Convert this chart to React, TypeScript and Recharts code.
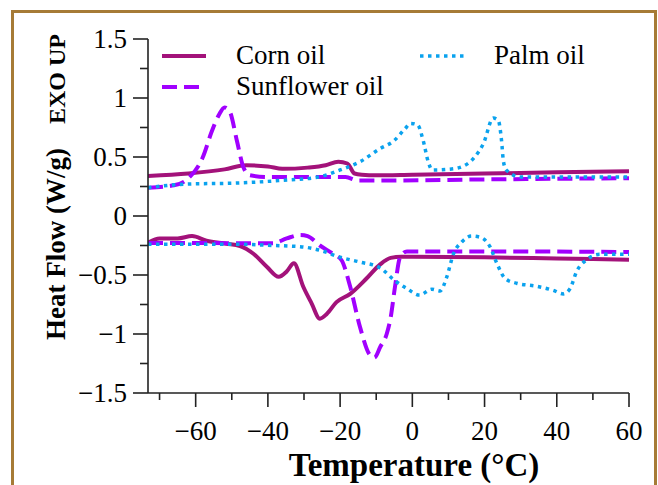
import { Label, Legend, Line, LineChart, XAxis, YAxis } from "recharts";

// DSC thermograms: upper curves = cooling (exo up), lower curves = heating
const cornCoolT = [-73.2, -62, -52, -46, -40, -36, -29, -24, -20.5, -18, -16, -14, -10, 0, 20, 40, 60];
const cornCoolW = [0.34, 0.36, 0.395, 0.43, 0.42, 0.4, 0.41, 0.43, 0.46, 0.445, 0.36, 0.35, 0.345, 0.35, 0.36, 0.37, 0.38];

const sunCoolT = [-73.2, -66, -62, -58, -55.5, -53.5, -52, -50.5, -48.6, -46.8, -45, -40, -30, -18.5, -15, -10, 20, 60];
const sunCoolW = [0.24, 0.26, 0.32, 0.5, 0.72, 0.86, 0.92, 0.88, 0.64, 0.415, 0.345, 0.33, 0.33, 0.33, 0.3, 0.3, 0.31, 0.32];

const palmCoolT = [-73.2, -63, -48, -37, -26, -20, -14.5, -9, -5, -2, -0.5, 1.5, 3, 4.4, 5.5, 9.5, 13, 17, 19.7, 22.4, 23.8, 24.7, 25.2, 26, 30, 60];
const palmCoolW = [0.24, 0.27, 0.28, 0.3, 0.33, 0.39, 0.46, 0.57, 0.64, 0.74, 0.785, 0.77, 0.64, 0.46, 0.39, 0.395, 0.41, 0.49, 0.615, 0.83, 0.81, 0.64, 0.47, 0.39, 0.33, 0.33];

const cornHeatT = [-73.2, -70, -65, -61, -57, -51.5, -47.7, -44, -40.3, -37, -34.8, -32.8, -30.2, -27.9, -25.6, -23.7, -21, -17.2, -12.7, -8.9, -6, -3, 0, 20, 40, 60];
const cornHeatW = [-0.228, -0.19, -0.19, -0.17, -0.21, -0.235, -0.255, -0.32, -0.43, -0.515, -0.47, -0.4, -0.6, -0.74, -0.87, -0.83, -0.73, -0.66, -0.53, -0.41, -0.355, -0.345, -0.345, -0.35, -0.36, -0.37];

const sunHeatT = [-73.2, -66, -50, -38.5, -34.8, -31, -29, -25.6, -22, -19.6, -17.2, -14.5, -11.7, -10.5, -8.9, -7.1, -6, -4.8, -3.4, -1.5, 20, 60];
const sunHeatW = [-0.228, -0.228, -0.23, -0.23, -0.19, -0.16, -0.17, -0.25, -0.32, -0.375, -0.6, -0.94, -1.18, -1.2, -1.11, -1.0, -0.86, -0.6, -0.35, -0.3, -0.3, -0.305];

const palmHeatT = [-73.2, -48, -38.5, -31, -25.6, -20, -14.5, -8.9, -5, -1.5, 2, 5.4, 7.7, 9.5, 11.4, 13.7, 16.4, 18.8, 21.5, 23.4, 25.7, 28.9, 34.4, 39, 41.8, 43.7, 45.5, 48.3, 52, 60];
const palmHeatW = [-0.24, -0.24, -0.25, -0.26, -0.29, -0.35, -0.39, -0.44, -0.545, -0.615, -0.67, -0.62, -0.635, -0.52, -0.32, -0.22, -0.17, -0.18, -0.26, -0.4, -0.53, -0.57, -0.595, -0.63, -0.66, -0.615, -0.47, -0.37, -0.325, -0.325];

const tempTicks = [-70, -60, -50, -40, -30, -20, -10, 0, 10, 20, 30, 40, 50, 60];
const flowTicks = [-1.5, -1.25, -1, -0.75, -0.5, -0.25, 0, 0.25, 0.5, 0.75, 1, 1.25, 1.5];

const oilNames = ["Corn oil", "Sunflower oil", "Palm oil"];

const TEMP_DOMAIN: [number, number] = [-73.2, 60];
const FLOW_DOMAIN: [number, number] = [-1.5, 1.5];

const CORN = "#a3127a";
const SUN = "#a100ff";
const PALM = "#0aa2ee";
const AXIS = "#222";
const FONT = "'Liberation Serif', 'Times New Roman', serif";

const styles: Record<string, { dash?: string; width: number }> = {
  "Corn oil": { width: 4 },
  "Sunflower oil": { dash: "15 7", width: 4 },
  "Palm oil": { dash: "3.5 4.5", width: 3.5 },
};

const rows = (t: number[], w: number[]) => t.map((temp, i) => ({ temp, flow: w[i] }));

const minus = (v: number) => String(v).replace("-", "\u2212");

function TempTick({ x, y, payload }: any) {
  const v = payload.value;
  const major = v % 20 === 0;
  return (
    <g>
      <line x1={x} y1={y} x2={x} y2={y + (major ? 14 : 7)} stroke={AXIS} strokeWidth={1.6} />
      {major && (
        <text x={x} y={y + 47} textAnchor="middle" fontFamily={FONT} fontSize={27} fill="#000">
          {minus(v)}
        </text>
      )}
    </g>
  );
}

function FlowTick({ x, y, payload }: any) {
  const v = payload.value;
  const major = Math.abs(v * 2 - Math.round(v * 2)) < 1e-6;
  return (
    <g>
      <line x1={x - (major ? 15 : 8)} y1={y} x2={x} y2={y} stroke={AXIS} strokeWidth={1.6} />
      {major && (
        <text x={x - 21} y={y + 9} textAnchor="end" fontFamily={FONT} fontSize={27} fill="#000">
          {minus(v)}
        </text>
      )}
    </g>
  );
}

function OilLegend({ payload }: any) {
  const items = oilNames
    .map((name) => (payload || []).find((e: any) => e.value === name))
    .filter(Boolean);
  return (
    <div
      style={{
        display: "grid",
        gridTemplateRows: "31px 31px",
        gridTemplateColumns: "258px auto",
        gridAutoFlow: "column",
        fontFamily: FONT,
        fontSize: 27,
        color: "#000",
      }}
    >
      {items.map((entry: any) => {
        const s = styles[entry.value];
        return (
          <div key={entry.value} style={{ display: "flex", alignItems: "center", whiteSpace: "nowrap" }}>
            <svg width={44} height={8} style={{ flex: "none" }}>
              <line x1={0} y1={4} x2={44} y2={4} stroke={entry.color} strokeWidth={s.width} strokeDasharray={s.dash} />
            </svg>
            <span style={{ marginLeft: 30, lineHeight: "31px" }}>{entry.value}</span>
          </div>
        );
      })}
    </div>
  );
}

export default function App() {
  return (
    <div style={{ position: "absolute", left: 0, top: 0, width: 658, height: 485, overflow: "hidden", background: "#fff" }}>
      <div
        style={{
          position: "absolute",
          left: 11,
          top: 10,
          width: 646,
          height: 520,
          boxSizing: "border-box",
          border: "3px solid #a67b36",
        }}
      />
      <LineChart width={658} height={485} margin={{ top: 39, right: 29, bottom: 0, left: 0 }}>
        <XAxis
          dataKey="temp"
          type="number"
          domain={TEMP_DOMAIN}
          ticks={tempTicks}
          interval={0}
          allowDataOverflow
          tickSize={0}
          tickMargin={0}
          tickLine={false}
          tick={<TempTick />}
          axisLine={{ stroke: AXIS, strokeWidth: 1.6 }}
          height={92}
        >
          <Label
            content={() => (
              <text x={414} y={476} textAnchor="middle" fontFamily={FONT} fontSize={33} fontWeight="bold" fill="#000">
                Temperature (°C)
              </text>
            )}
          />
        </XAxis>
        <XAxis xAxisId="top" orientation="top" type="number" domain={TEMP_DOMAIN} tick={false} tickLine={false} height={0} axisLine={{ stroke: AXIS, strokeWidth: 1.6 }} />
        <YAxis
          type="number"
          domain={FLOW_DOMAIN}
          ticks={flowTicks}
          interval={0}
          allowDataOverflow
          tickSize={0}
          tickMargin={0}
          tickLine={false}
          tick={<FlowTick />}
          axisLine={{ stroke: AXIS, strokeWidth: 1.6 }}
          width={148}
        >
          <Label
            content={() => (
              <text transform="translate(65, 340) rotate(-90)" fontFamily={FONT} fontWeight="bold" fill="#000">
                <tspan fontSize={27}>Heat Flow (W/g)</tspan>
                <tspan fontSize={24} dx={24}>EXO UP</tspan>
              </text>
            )}
          />
        </YAxis>
        <YAxis yAxisId="right" orientation="right" type="number" domain={FLOW_DOMAIN} tick={false} tickLine={false} width={0} axisLine={{ stroke: AXIS, strokeWidth: 1.6 }} />
        <Legend
          layout="vertical"
          align="center"
          verticalAlign="middle"
          content={<OilLegend />}
          wrapperStyle={{ left: 162, top: 40, width: 440, height: 62 }}
        />

        <Line data={rows(cornCoolT, cornCoolW)} dataKey="flow" name="Corn oil" type="monotone" stroke={CORN} strokeWidth={4} dot={false} isAnimationActive={false} />
        <Line data={rows(sunCoolT, sunCoolW)} dataKey="flow" name="Sunflower oil" type="monotone" stroke={SUN} strokeWidth={4} strokeDasharray="15 7" dot={false} isAnimationActive={false} />
        <Line data={rows(palmCoolT, palmCoolW)} dataKey="flow" name="Palm oil" type="monotone" stroke={PALM} strokeWidth={3.5} strokeDasharray="3.5 4.5" dot={false} isAnimationActive={false} />
        <Line data={rows(cornHeatT, cornHeatW)} dataKey="flow" name="Corn oil heating" legendType="none" type="monotone" stroke={CORN} strokeWidth={4} dot={false} isAnimationActive={false} />
        <Line data={rows(sunHeatT, sunHeatW)} dataKey="flow" name="Sunflower oil heating" legendType="none" type="monotone" stroke={SUN} strokeWidth={4} strokeDasharray="15 7" dot={false} isAnimationActive={false} />
        <Line data={rows(palmHeatT, palmHeatW)} dataKey="flow" name="Palm oil heating" legendType="none" type="monotone" stroke={PALM} strokeWidth={3.5} strokeDasharray="3.5 4.5" dot={false} isAnimationActive={false} />
      </LineChart>
    </div>
  );
}
